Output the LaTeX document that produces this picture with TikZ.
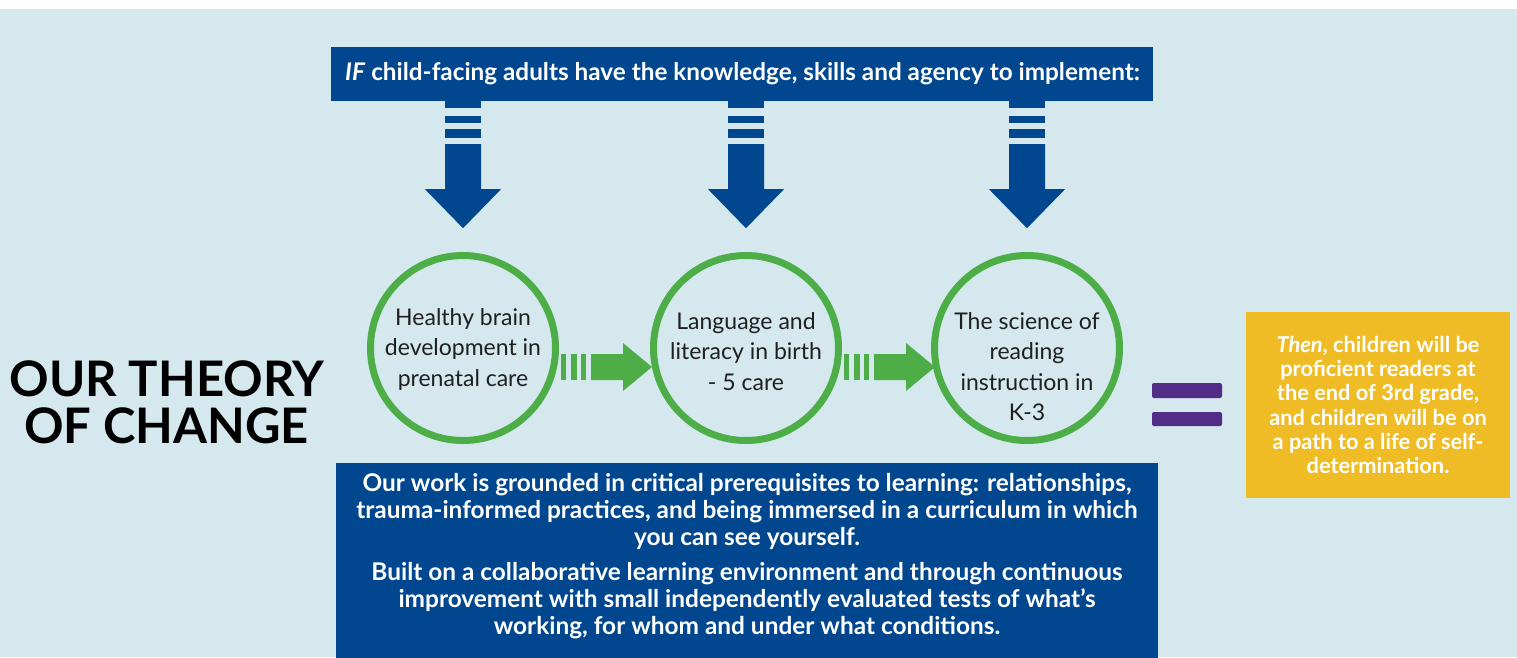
\documentclass[tikz,border=0pt]{standalone}
\usepackage{fontspec}
\setmainfont{Lato}
\usetikzlibrary{calc}
\definecolor{bgblue}{RGB}{212,232,238}
\definecolor{navy}{RGB}{0,71,143}
\definecolor{leaf}{RGB}{77,174,72}
\definecolor{grape}{RGB}{82,44,135}
\definecolor{gold}{RGB}{239,188,38}
\tikzset{
  navybox/.style={fill=navy, draw=none, inner sep=0pt},
  ring/.style={circle, draw=leaf, line width=7pt, minimum size=185pt, inner sep=0pt},
  ringtext/.style={anchor=north, inner sep=0pt, align=center, text=black!88,
    font=\fontsize{23}{30.5}\selectfont},
  whitetext/.style={inner sep=0pt, align=center, text=white},
  titletext/.style={anchor=base, inner sep=0pt, text=black, text height=35pt, text depth=0pt,
    font=\fontsize{49}{49}\selectfont\bfseries},
  downarr/.pic={
    \fill[navy] (-18,0) rectangle (18,7);
    \fill[navy] (-18,14.5) rectangle (18,22);
    \fill[navy] (-18,28) rectangle (18,37);
    \fill[navy] (-18,43) -- (18,43) -- (18,88) -- (38,88) -- (0,127) -- (-38,88) -- (-18,88) -- cycle;
  },
  greenarr/.pic={
    \fill[leaf] (2,-13) rectangle (7,13);
    \fill[leaf] (12,-13) rectangle (18,13);
    \fill[leaf] (22,-13) rectangle (27,13);
    \fill[leaf] (32,-13) -- (64,-13) -- (64,-24) -- (93,0) -- (64,24) -- (64,13) -- (32,13) -- cycle;
  },
  eqbar/.style={fill=grape, rounded corners=2pt},
}
\begin{document}
\begin{tikzpicture}[x=1pt,y=-1pt]
\useasboundingbox (0,0) rectangle (1517,657);
\fill[white] (0,0) rectangle (1517,657);
\fill[bgblue] (0,9) rectangle (1517,657);

% top banner
\node[navybox, minimum width=822pt, minimum height=54pt] (top) at (742,74) {};
\node[whitetext, font=\fontsize{24.3}{28}\selectfont\bfseries] (toptext) at (742.5,74)
  {\textit{IF} child-facing adults have the knowledge, skills and agency to implement:};

% circles
\node[ring] (c1) at (463,348) {};
\node[ring] (c2) at (746,348) {};
\node[ring] (c3) at (1027,348) {};
\node[ringtext] (t1) at (463,308) {Healthy brain\\development in\\prenatal care};
\node[ringtext] (t2) at (746,312) {Language and\\literacy in birth\\- 5 care};
\node[ringtext] (t3) at (1027,312) {The science of\\reading\\instruction in\\K-3};

% down arrows
\foreach \c in {c1,c2,c3} {
  \path (\c |- top.south) pic {downarr};
}

% green arrows
\path (c1.east) ++(0,19) coordinate (g1);
\path (c2.east) ++(0,19) coordinate (g2);
\path (g1) pic {greenarr};
\path (g2) pic {greenarr};

% title
\node[titletext] (title1) at (167,396) {OUR THEORY};
\node[titletext] (title2) at (166.5,443) {OF CHANGE};

% equals sign
\fill[eqbar] (1152,383) rectangle (1222,398);
\fill[eqbar] (1152,412) rectangle (1222,426);

% result box
\node[fill=gold, minimum width=264pt, minimum height=186pt, inner sep=0pt] (res) at (1378,405) {};
\node[whitetext, font=\fontsize{21.8}{24.2}\selectfont\bfseries] (restext) at (1378,405)
  {\textit{Then}, children will be\\proficient readers at\\the end of 3rd grade,\\and children will be on\\a path to a life of self-\\determination.};

% bottom box
\node[navybox, minimum width=822pt, minimum height=196pt] (bot) at (747,561) {};
\node[whitetext, font=\fontsize{24.4}{27}\selectfont\bfseries] (bottext) at (747,556)
  {Our work is grounded in critical prerequisites to learning: relationships,\\
   trauma-informed practices, and being immersed in a curriculum in which\\
   you can see yourself.\\[8pt]
   Built on a collaborative learning environment and through continuous\\
   improvement with small independently evaluated tests of what’s\\
   working, for whom and under what conditions.};
\end{tikzpicture}
\end{document}
